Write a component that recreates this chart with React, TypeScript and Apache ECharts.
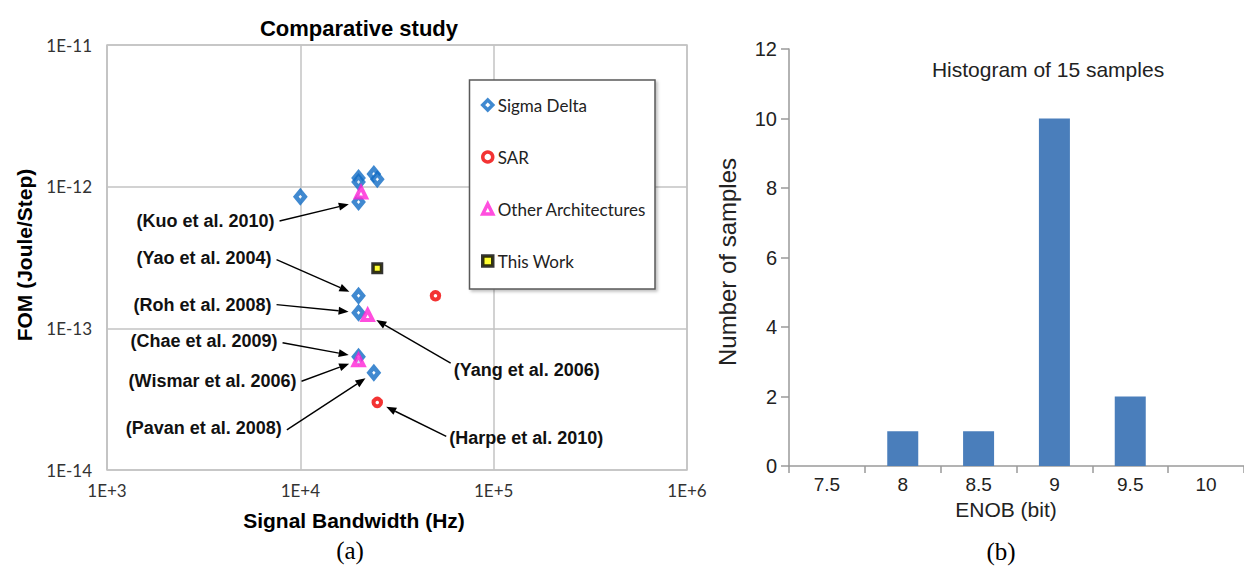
import React, { useEffect, useRef } from 'react';
import * as echarts from 'echarts';

// ---------- Data: panel (a) ----------
// [signal bandwidth (Hz), FOM (J/step)]
const sigmaDelta: [number, number][] = [
  [1.0e4, 8.5e-13],
  [2.0e4, 1.15e-12],
  [2.0e4, 1.08e-12],
  [2.4e4, 1.23e-12],
  [2.5e4, 1.13e-12],
  [2.0e4, 7.8e-13], // Kuo et al. 2010
  [2.0e4, 1.7e-13], // Yao et al. 2004
  [2.0e4, 1.29e-13], // Roh et al. 2008
  [2.0e4, 6.3e-14], // Chae et al. 2009
  [2.4e4, 4.85e-14], // Pavan et al. 2008
];
const sar: [number, number][] = [
  [5.0e4, 1.7e-13],
  [2.5e4, 3.0e-14], // Harpe et al. 2010
];
const otherArch: [number, number][] = [
  [2.06e4, 9.1e-13],
  [2.23e4, 1.24e-13], // Yang et al. 2006
  [2.0e4, 5.95e-14], // Wismar et al. 2006
];
const thisWork: [number, number][] = [[2.5e4, 2.65e-13]];

const seriesNames = ['Sigma Delta', 'SAR', 'Other Architectures', 'This Work'];

// Annotation callouts (label text, the point they point at, and pixel offset of the arrow tail)
const annotations = [
  { text: '(Kuo et al. 2010)', target: sigmaDelta[5], from: [-79, 19], align: 'right', textDy: 0 },
  { text: '(Yao et al. 2004)', target: sigmaDelta[6], from: [-82, -36], align: 'right', textDy: -2 },
  { text: '(Roh et al. 2008)', target: sigmaDelta[7], from: [-82, -8], align: 'right', textDy: 0 },
  { text: '(Chae et al. 2009)', target: sigmaDelta[8], from: [-76, -14], align: 'right', textDy: -1.5 },
  { text: '(Wismar et al. 2006)', target: otherArch[2], from: [-57, 21], align: 'right', textDy: 0 },
  { text: '(Pavan et al. 2008)', target: sigmaDelta[9], from: [-87, 57], align: 'right', textDy: -2 },
  { text: '(Yang et al. 2006)', target: otherArch[1], from: [83, 48], align: 'left', textDy: 7 },
  { text: '(Harpe et al. 2010)', target: sar[1], from: [69, 34], align: 'left', textDy: 2 },
];

// ---------- Data: panel (b) ----------
const enobBins = ['7.5', '8', '8.5', '9', '9.5', '10'];
const sampleCounts = [0, 1, 1, 10, 2, 0];

const BLUE = '#106cc4';
const RED = '#f00000';
const MAGENTA = '#ff22d6';
const BAR = '#4a7ebb';

export default function App() {
  const ref = useRef<HTMLDivElement>(null);

  useEffect(() => {
    if (!ref.current) return;
    const chart = echarts.init(ref.current, undefined, { renderer: 'svg' });

    const logLabel = (sign: string) => (v: number) => {
      const e = Math.round(Math.log10(v));
      return '1E' + (e >= 0 ? sign : '') + e;
    };

    const option: any = {
      animation: false,
      textStyle: { fontFamily: 'Liberation Sans' },
      grid: [
        {
          left: 107, top: 45, width: 580, height: 425,
          show: true, borderColor: '#c3c3c3', borderWidth: 1.5, backgroundColor: 'transparent',
        },
        { left: 789, top: 49, width: 455, height: 417 },
      ],
      legend: {
        data: seriesNames,
        orient: 'vertical',
        left: 481,
        top: 95,
        itemGap: 32,
        itemWidth: 10,
        itemHeight: 10,
        padding: 0,
        selectedMode: false,
        z: 6,
        itemStyle: { borderWidth: 3.5 },
        textStyle: { fontFamily: 'Lato', fontSize: 17, color: '#222', lineHeight: 20 },
      },
      xAxis: [
        {
          type: 'log', gridIndex: 0, min: 1e3, max: 1e6, logBase: 10,
          axisLine: { show: false }, axisTick: { show: false },
          splitLine: { show: true, lineStyle: { color: '#c3c3c3', width: 1.5 } },
          axisLabel: { formatter: logLabel('+'), fontFamily: 'Lato', fontSize: 17, color: '#333', margin: 12 },
        },
        {
          type: 'category', gridIndex: 1, data: enobBins, boundaryGap: true,
          axisLine: { show: true, lineStyle: { color: '#9a9a9a', width: 1.5 } },
          axisTick: { show: true, length: 7, lineStyle: { color: '#9a9a9a', width: 1.5 } },
          axisLabel: { fontSize: 19, color: '#222', margin: 9 },
          splitLine: { show: false },
        },
      ],
      yAxis: [
        {
          type: 'log', gridIndex: 0, min: 1e-14, max: 1e-11, logBase: 10,
          axisLine: { show: false }, axisTick: { show: false },
          splitLine: { show: true, lineStyle: { color: '#c3c3c3', width: 1.5 } },
          axisLabel: { formatter: logLabel('+'), fontFamily: 'Lato', fontSize: 17, color: '#333', margin: 15 },
        },
        {
          type: 'value', gridIndex: 1, min: 0, max: 12, interval: 2,
          axisLine: { show: true, lineStyle: { color: '#9a9a9a', width: 1.5 } },
          axisTick: { show: true, length: 8, lineStyle: { color: '#9a9a9a', width: 1.5 } },
          axisLabel: { fontSize: 20, color: '#222', margin: 12 },
          splitLine: { show: false },
        },
      ],
      series: [
        {
          name: 'Sigma Delta', type: 'scatter', xAxisIndex: 0, yAxisIndex: 0, data: sigmaDelta,
          symbol: 'diamond', symbolSize: [9, 11], z: 3,
          itemStyle: { color: '#fff', borderColor: BLUE, borderWidth: 4.5 },
        },
        {
          name: 'SAR', type: 'scatter', xAxisIndex: 0, yAxisIndex: 0, data: sar,
          symbol: 'circle', symbolSize: 7.5, z: 3,
          itemStyle: { color: '#fff', borderColor: RED, borderWidth: 4 },
        },
        {
          name: 'Other Architectures', type: 'scatter', xAxisIndex: 0, yAxisIndex: 0, data: otherArch,
          symbol: 'triangle', symbolSize: 10, z: 3,
          itemStyle: { color: '#fff', borderColor: MAGENTA, borderWidth: 4 },
        },
        {
          name: 'This Work', type: 'scatter', xAxisIndex: 0, yAxisIndex: 0, data: thisWork,
          symbol: 'rect', symbolSize: 8.5, z: 3,
          itemStyle: { color: '#ffff00', borderColor: '#000', borderWidth: 3.5 },
        },
        {
          name: 'annotations', type: 'custom', xAxisIndex: 0, yAxisIndex: 0,
          silent: true, clip: false, z: 4,
          data: annotations.map((a) => a.target),
          encode: { x: 0, y: 1 },
          renderItem: (params: any, api: any) => {
            const a = annotations[params.dataIndex];
            const p = api.coord([api.value(0), api.value(1)]);
            const sx = p[0] + a.from[0];
            const sy = p[1] + a.from[1];
            const dx = sx - p[0];
            const dy = sy - p[1];
            const len = Math.hypot(dx, dy);
            const ux = dx / len;
            const uy = dy / len;
            const gap = 10;
            const head = 10;
            const hw = 4;
            const tipX = p[0] + ux * gap;
            const tipY = p[1] + uy * gap;
            const bx = tipX + ux * head;
            const by = tipY + uy * head;
            const nx = -uy;
            const ny = ux;
            return {
              type: 'group',
              children: [
                {
                  type: 'line',
                  shape: { x1: sx, y1: sy, x2: bx, y2: by },
                  style: { stroke: '#000', lineWidth: 1.4 },
                },
                {
                  type: 'polygon',
                  shape: { points: [[tipX, tipY], [bx + nx * hw, by + ny * hw], [bx - nx * hw, by - ny * hw]] },
                  style: { fill: '#000' },
                },
                {
                  type: 'text',
                  x: a.align === 'right' ? sx - 5 : sx + 3,
                  y: sy + a.textDy,
                  style: {
                    text: a.text, align: a.align, verticalAlign: 'middle',
                    fontFamily: 'Liberation Sans', fontWeight: 'bold', fontSize: 18, fill: '#111',
                  },
                },
              ],
            };
          },
        },
        {
          name: 'Number of samples', type: 'bar', xAxisIndex: 1, yAxisIndex: 1,
          data: sampleCounts, barWidth: 31,
          itemStyle: { color: BAR },
        },
      ],
      graphic: [
        {
          type: 'rect', z: 5,
          shape: { x: 469.5, y: 80, width: 185.5, height: 209 },
          style: {
            fill: '#fff', stroke: '#5a5a5a', lineWidth: 1.5,
            shadowBlur: 3, shadowOffsetX: 2, shadowOffsetY: 2, shadowColor: 'rgba(0,0,0,0.25)',
          },
        },
        {
          type: 'text', x: 359, y: 28, z: 5,
          style: { text: 'Comparative study', align: 'center', verticalAlign: 'middle', fontFamily: 'Liberation Sans', fontWeight: 'bold', fontSize: 22, fill: '#000' },
        },
        {
          type: 'text', x: 354, y: 520, z: 5,
          style: { text: 'Signal Bandwidth (Hz)', align: 'center', verticalAlign: 'middle', fontFamily: 'Liberation Sans', fontWeight: 'bold', fontSize: 21, fill: '#000' },
        },
        {
          type: 'text', x: 24, y: 255, rotation: Math.PI / 2, z: 5,
          style: { text: 'FOM (Joule/Step)', align: 'center', verticalAlign: 'middle', fontFamily: 'Liberation Sans', fontWeight: 'bold', fontSize: 21, fill: '#000' },
        },
        {
          type: 'text', x: 1048, y: 69, z: 5,
          style: { text: 'Histogram of 15 samples', align: 'center', verticalAlign: 'middle', fontFamily: 'Liberation Sans', fontSize: 21, fill: '#222' },
        },
        {
          type: 'text', x: 1006, y: 509, z: 5,
          style: { text: 'ENOB (bit)', align: 'center', verticalAlign: 'middle', fontFamily: 'Liberation Sans', fontSize: 21, fill: '#222' },
        },
        {
          type: 'text', x: 727, y: 262, rotation: Math.PI / 2, z: 5,
          style: { text: 'Number of samples', align: 'center', verticalAlign: 'middle', fontFamily: 'Liberation Sans', fontSize: 24, fill: '#222' },
        },
        {
          type: 'text', x: 350, y: 550, z: 5,
          style: { text: '(a)', align: 'center', verticalAlign: 'middle', fontFamily: 'Liberation Serif', fontSize: 25, fill: '#000' },
        },
        {
          type: 'text', x: 1001, y: 551, z: 5,
          style: { text: '(b)', align: 'center', verticalAlign: 'middle', fontFamily: 'Liberation Serif', fontSize: 25, fill: '#000' },
        },
      ],
    };

    chart.setOption(option);
    return () => {
      chart.dispose();
    };
  }, []);

  return (
    <div
      ref={ref}
      style={{ position: 'absolute', left: 0, top: 0, width: 1244, height: 570, background: '#fff' }}
    />
  );
}
